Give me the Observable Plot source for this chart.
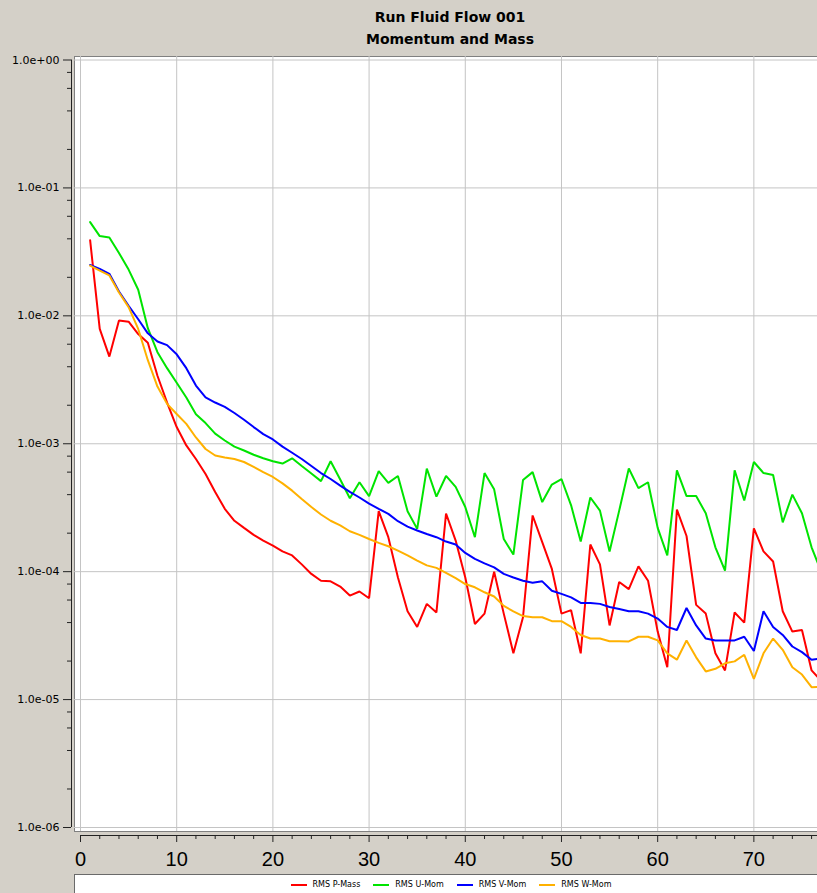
<!DOCTYPE html>
<html><head><meta charset="utf-8">
<script src="https://cdn.jsdelivr.net/npm/d3@7"></script>
<script src="https://cdn.jsdelivr.net/npm/@observablehq/plot@0.6"></script>
<style>
html,body{margin:0;padding:0;background:#d4d0c8;overflow:hidden;width:817px;height:893px}
#wrap{position:relative;width:817px;height:893px;overflow:hidden}
#title{position:absolute;left:0;top:6px;width:900px;text-align:center;font:bold 14px "DejaVu Sans",sans-serif;line-height:22px;color:#000}
#chart{position:absolute;left:0;top:55px;width:826px}
#chart svg{max-width:none !important;display:block}
#legend{position:absolute;left:74px;top:874px;width:752px;height:19px;background:#fff;border-top:1px solid #6a6a6a;border-left:1px solid #6a6a6a;display:flex;justify-content:center;align-items:center;gap:13px;font:8px "DejaVu Sans",sans-serif;color:#000}
.item{display:flex;align-items:center}
.sw{display:inline-block;width:16px;height:2px;margin-right:6px}
</style></head>
<body><div id="wrap">
<div id="title">Run Fluid Flow 001<br>Momentum and Mass</div>
<div id="chart"></div>
<div id="legend"></div>
</div>
<script>
const titleLines = ["Run Fluid Flow 001", "Momentum and Mass"];
const seriesNames = ["RMS P-Mass", "RMS U-Mom", "RMS V-Mom", "RMS W-Mom"];
const seriesColors = ["#ff0000", "#00e400", "#0000ff", "#ffb100"];
const iterations = d3.range(1, 78);
const pMass = [3.9e-2,7.9e-3,4.8e-3,9.2e-3,9.0e-3,7.2e-3,6.15e-3,3.4e-3,2.1e-3,1.35e-3,
  9.7e-4,7.6e-4,5.8e-4,4.2e-4,3.1e-4,2.5e-4,2.2e-4,1.94e-4,1.75e-4,1.6e-4,
  1.44e-4,1.34e-4,1.14e-4,9.6e-5,8.5e-5,8.4e-5,7.65e-5,6.5e-5,7.0e-5,6.2e-5,
  2.97e-4,1.86e-4,9.0e-5,4.9e-5,3.7e-5,5.6e-5,4.8e-5,2.85e-4,1.75e-4,9.0e-5,
  3.9e-5,4.7e-5,1.0e-4,4.7e-5,2.3e-5,4.4e-5,2.75e-4,1.7e-4,1.05e-4,4.7e-5,
  5.0e-5,2.3e-5,1.63e-4,1.14e-4,3.8e-5,8.3e-5,7.3e-5,1.1e-4,8.5e-5,3.4e-5,
  1.79e-5,3.06e-4,1.9e-4,5.5e-5,4.7e-5,2.3e-5,1.69e-5,4.8e-5,4.0e-5,2.18e-4,
  1.44e-4,1.2e-4,4.9e-5,3.4e-5,3.5e-5,1.69e-5,1.4e-5];
const uMom = [5.4e-2,4.2e-2,4.1e-2,3.1e-2,2.3e-2,1.6e-2,8.0e-3,5.2e-3,3.9e-3,3.0e-3,
  2.3e-3,1.7e-3,1.45e-3,1.2e-3,1.06e-3,9.5e-4,8.85e-4,8.2e-4,7.7e-4,7.3e-4,
  7.0e-4,7.7e-4,6.7e-4,5.85e-4,5.1e-4,7.3e-4,5.25e-4,3.75e-4,5.0e-4,3.9e-4,
  6.1e-4,4.95e-4,5.6e-4,2.97e-4,2.16e-4,6.4e-4,3.86e-4,5.6e-4,4.6e-4,3.2e-4,
  1.86e-4,5.9e-4,4.4e-4,1.8e-4,1.36e-4,5.2e-4,6.0e-4,3.5e-4,4.8e-4,5.3e-4,
  3.3e-4,1.72e-4,3.8e-4,3.0e-4,1.44e-4,3.0e-4,6.4e-4,4.5e-4,5.0e-4,2.2e-4,
  1.34e-4,6.2e-4,3.9e-4,3.9e-4,2.86e-4,1.55e-4,1.02e-4,6.2e-4,3.6e-4,7.2e-4,
  5.9e-4,5.7e-4,2.43e-4,4.0e-4,2.86e-4,1.55e-4,1.0e-4];
const vMom = [2.5e-2,2.33e-2,2.13e-2,1.55e-2,1.2e-2,9.4e-3,7.3e-3,6.3e-3,5.9e-3,5.0e-3,
  3.9e-3,2.85e-3,2.3e-3,2.1e-3,1.94e-3,1.74e-3,1.54e-3,1.35e-3,1.19e-3,1.08e-3,
  9.5e-4,8.5e-4,7.6e-4,6.7e-4,5.9e-4,5.3e-4,4.7e-4,4.2e-4,3.8e-4,3.4e-4,
  3.1e-4,2.83e-4,2.48e-4,2.25e-4,2.1e-4,1.97e-4,1.86e-4,1.72e-4,1.63e-4,1.4e-4,
  1.26e-4,1.16e-4,1.08e-4,9.6e-5,9.0e-5,8.5e-5,8.2e-5,8.4e-5,7.1e-5,6.7e-5,
  6.3e-5,5.7e-5,5.7e-5,5.6e-5,5.3e-5,5.1e-5,4.9e-5,4.9e-5,4.7e-5,4.3e-5,
  3.7e-5,3.5e-5,5.2e-5,3.8e-5,3.0e-5,2.9e-5,2.9e-5,2.9e-5,3.1e-5,2.4e-5,
  4.9e-5,3.7e-5,3.2e-5,2.6e-5,2.35e-5,2.05e-5,2.1e-5];
const wMom = [2.47e-2,2.26e-2,2.07e-2,1.52e-2,1.17e-2,7.9e-3,4.5e-3,2.8e-3,2.05e-3,1.71e-3,
  1.43e-3,1.12e-3,9.1e-4,8.1e-4,7.8e-4,7.6e-4,7.2e-4,6.6e-4,6.0e-4,5.5e-4,
  4.9e-4,4.3e-4,3.7e-4,3.2e-4,2.8e-4,2.5e-4,2.3e-4,2.07e-4,1.94e-4,1.8e-4,
  1.68e-4,1.58e-4,1.46e-4,1.34e-4,1.22e-4,1.12e-4,1.07e-4,9.8e-5,8.9e-5,8.0e-5,
  7.55e-5,6.9e-5,6.4e-5,5.4e-5,4.9e-5,4.5e-5,4.4e-5,4.4e-5,4.1e-5,4.1e-5,
  3.7e-5,3.2e-5,3.0e-5,3.0e-5,2.86e-5,2.86e-5,2.85e-5,3.1e-5,3.1e-5,2.9e-5,
  2.3e-5,2.05e-5,2.9e-5,2.14e-5,1.66e-5,1.74e-5,1.92e-5,1.99e-5,2.24e-5,1.45e-5,
  2.3e-5,3.0e-5,2.45e-5,1.79e-5,1.57e-5,1.25e-5,1.26e-5];
const yTicks = [1, 1e-1, 1e-2, 1e-3, 1e-4, 1e-5, 1e-6];
const yTickLabels = ["1.0e+00","1.0e-01","1.0e-02","1.0e-03","1.0e-04","1.0e-05","1.0e-06"];
const yMinorMantissas = [2, 4, 6, 8];
const xTicks = [0, 10, 20, 30, 40, 50, 60, 70];
const xTickLabels = ["0","10","20","30","40","50","60","70"];

const seriesValues = [pMass, uMom, vMom, wMom];
const rows = [];
seriesValues.forEach((arr, s) => arr.forEach((v, i) => rows.push({it: iterations[i], v, s: seriesNames[s]})));
const yMinor = [];
for (let e = -6; e < 0; e++) for (const m of yMinorMantissas) yMinor.push(m * Math.pow(10, e));
const xMinor = d3.range(0, 78, 2).filter(d => d % 10 !== 0);

const W = 826, H = 819;
const chart = Plot.plot({
  width: W, height: H,
  marginLeft: 74, marginRight: 0, marginTop: 1, marginBottom: 43,
  x: {domain: [0, 77.55], insetLeft: 6, insetRight: 0, label: null},
  y: {type: "log", domain: [1e-6, 1], insetTop: 3.5, insetBottom: 4, label: null},
  style: {fontFamily: "DejaVu Sans, sans-serif", color: "#000", background: "transparent", overflow: "visible", maxWidth: "none"},
  marks: [
    Plot.frame({fill: "#fff", stroke: "#808080"}),
    Plot.gridX(xTicks, {stroke: "#c4c4c4", strokeOpacity: 1}),
    Plot.gridY(yTicks, {stroke: "#c4c4c4", strokeOpacity: 1}),
    ...seriesNames.map((name, k) => Plot.line(rows.filter(r => r.s === name), {
      x: "it", y: "v", stroke: seriesColors[k], strokeWidth: 2, clip: true, strokeLinejoin: "miter"
    })),
    Plot.ruleX([0], {y1: 1, y2: 1e-6, dx: -9, stroke: "#222"}),
    Plot.axisY(yTicks, {anchor: "left", label: null, tickSize: 8, dx: -3, tickPadding: 4, fontSize: 11,
      tickFormat: d => yTickLabels[yTicks.indexOf(d)], stroke: "#222"}),
    Plot.axisY(yMinor, {anchor: "left", label: null, tickSize: 4, dx: -3, tickFormat: () => "", stroke: "#222"}),
    Plot.ruleY([1e-6], {x1: 0, x2: 78, dy: 8, stroke: "#222"}),
    Plot.axisX(xTicks, {anchor: "bottom", label: null, tickSize: 7, dy: 4, tickPadding: 9, fontSize: 20,
      fontFamily: "Liberation Sans, sans-serif", tickFormat: d => xTickLabels[xTicks.indexOf(d)], stroke: "#222"}),
    Plot.axisX(xMinor, {anchor: "bottom", label: null, tickSize: 4, dy: 4, tickFormat: () => "", stroke: "#222"})
  ]
});
document.getElementById("chart").appendChild(chart);

const legend = document.getElementById("legend");
seriesNames.forEach((n, k) => {
  const it = document.createElement("div");
  it.className = "item";
  it.innerHTML = `<span class="sw" style="background:${seriesColors[k]}"></span><span>${n}</span>`;
  legend.appendChild(it);
});
</script>
</body></html>
